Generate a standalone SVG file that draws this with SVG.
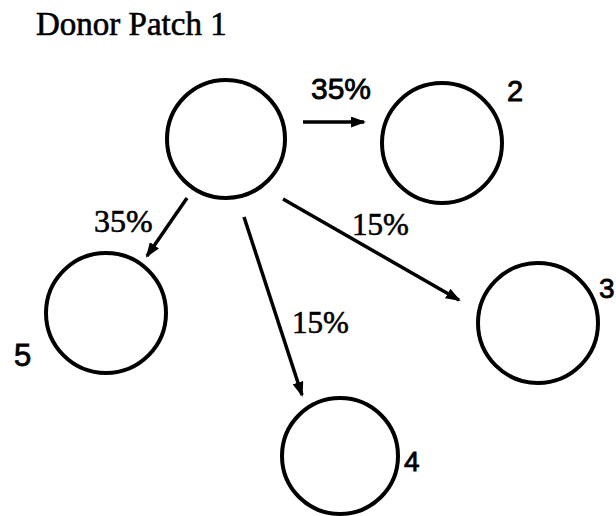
<svg xmlns="http://www.w3.org/2000/svg" width="616" height="516" viewBox="0 0 616 516">
  <style>
    .node circle { fill: none; stroke: #000; stroke-width: 4; }
    .serif { font-family: "Liberation Serif", "Times New Roman", serif; fill: #000; stroke: #000; stroke-width: 0.6; }
    .sans { font-family: "Liberation Sans", Arial, sans-serif; fill: #000; stroke: #000; stroke-width: 0.8; }
    .edge { stroke: #000; stroke-width: 3.5; fill: none; marker-end: url(#arrow); }
  </style>
  <defs>
    <marker id="arrow" markerUnits="userSpaceOnUse" markerWidth="15" markerHeight="11" refX="13" refY="5.5" orient="auto">
      <path d="M0,0 L15,5.5 L0,11 z" fill="#000"/>
    </marker>
  </defs>
  <rect width="616" height="516" fill="#fff"/>
  <text class="serif" x="36" y="35" font-size="33">Donor Patch 1</text>
  <g id="node1" class="node">
    <circle cx="226" cy="139" r="59"/>
  </g>
  <g id="node2" class="node">
    <circle cx="442" cy="143" r="60"/>
    <text class="sans" x="507" y="101" font-size="29">2</text>
  </g>
  <g id="node3" class="node">
    <circle cx="538" cy="323" r="60"/>
    <text class="sans" x="599" y="298" font-size="28">3</text>
  </g>
  <g id="node4" class="node">
    <circle cx="340" cy="456" r="58"/>
    <text class="sans" x="404" y="471" font-size="28">4</text>
  </g>
  <g id="node5" class="node">
    <circle cx="106" cy="313" r="60"/>
    <text class="sans" x="14" y="366" font-size="31">5</text>
  </g>
  <g id="connectors">
    <line class="edge" x1="303" y1="122" x2="364" y2="122"/>
    <line class="edge" x1="187" y1="198" x2="147" y2="256"/>
    <line class="edge" x1="244" y1="217" x2="302" y2="395"/>
    <line class="edge" x1="283" y1="199" x2="459" y2="300"/>
    <text class="sans" x="311" y="99" font-size="30">35%</text>
    <text class="serif" x="94" y="232" font-size="32">35%</text>
    <text class="serif" x="352" y="235" font-size="31">15%</text>
    <text class="serif" x="292" y="333" font-size="31">15%</text>
  </g>
</svg>
